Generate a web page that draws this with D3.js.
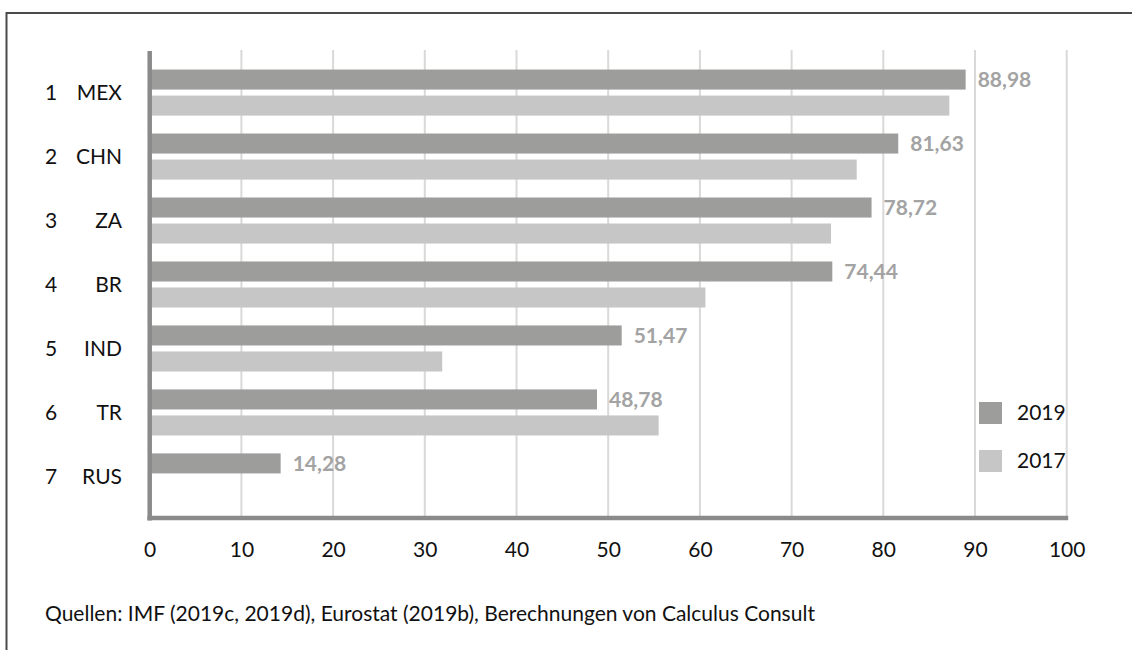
<!DOCTYPE html>
<html><head><meta charset="utf-8">
<script src="https://cdn.jsdelivr.net/npm/d3@7"></script>
<style>
body{margin:0;background:#fff;}
svg{display:block;}
text{font-family:Lato,"Noto Sans",sans-serif;}
</style></head>
<body>
<svg id="chart" width="1132" height="650"></svg>
<script>
const ranks = ["1","2","3","4","5","6","7"];
const categories = ["MEX","CHN","ZA","BR","IND","TR","RUS"];
const values2019 = [88.98, 81.63, 78.72, 74.44, 51.47, 48.78, 14.28];
const values2017 = [87.2, 77.1, 74.3, 60.6, 31.9, 55.5, null];
const seriesNames = ["2019","2017"];
const xTicks = [0,10,20,30,40,50,60,70,80,90,100];
const footer = "Quellen: IMF (2019c, 2019d), Eurostat (2019b), Berechnungen von Calculus Consult";

const colors = {"2019":"#9d9d9c","2017":"#c6c6c6"};
const svg = d3.select("#chart");
const fontSize = 21;

// frame (top + left lines)
svg.append("line").attr("x1",6).attr("x2",1132).attr("y1",13).attr("y2",13)
  .attr("stroke","#4a4a4a").attr("stroke-width",2);
svg.append("line").attr("x1",6.5).attr("x2",6.5).attr("y1",12).attr("y2",650)
  .attr("stroke","#4a4a4a").attr("stroke-width",2);

const plotTop = 51, plotBottom = 518, left = 149.7, right = 1066.7;
const x = d3.scaleLinear().domain([0,100]).range([left,right]);
const y = d3.scaleBand().domain(categories).range([plotTop,plotBottom])
  .paddingInner(0.28).paddingOuter(0.29);
const ySub = d3.scaleBand().domain(seriesNames).range([0,y.bandwidth()]).paddingInner(0.23);

// gridlines
svg.append("g").selectAll("line").data(xTicks.filter(d=>d>0)).join("line")
  .attr("x1",d=>x(d)).attr("x2",d=>x(d)).attr("y1",plotTop-1).attr("y2",plotBottom)
  .attr("stroke","#d9d9d9").attr("stroke-width",2);

// bars
const data = categories.map((c,i)=>({cat:c, rank:ranks[i], v:{"2019":values2019[i],"2017":values2017[i]}}));
const g = svg.append("g");
data.forEach(d=>{
  seriesNames.forEach(s=>{
    if(d.v[s]==null) return;
    g.append("rect").attr("x",x(0)).attr("y",y(d.cat)+ySub(s))
      .attr("width",x(d.v[s])-x(0)).attr("height",ySub.bandwidth())
      .attr("fill",colors[s]);
  });
  // data label for 2019
  g.append("text").attr("x",x(d.v["2019"])+12).attr("y",y(d.cat)+ySub("2019")+ySub.bandwidth()/2)
    .attr("dy","0.35em").attr("font-size",fontSize).attr("font-weight","bold").attr("fill","#a3a3a3")
    .text(d3.format(".2f")(d.v["2019"]).replace(".",","));
  // category labels
  svg.append("text").attr("x",45).attr("y",y(d.cat)+y.bandwidth()/2).attr("dy","0.35em")
    .attr("font-size",fontSize).attr("fill","#111").text(d.rank);
  svg.append("text").attr("x",122).attr("y",y(d.cat)+y.bandwidth()/2).attr("dy","0.35em")
    .attr("text-anchor","end").attr("font-size",fontSize).attr("fill","#111").text(d.cat);
});

// axes lines
svg.append("line").attr("x1",left).attr("x2",left).attr("y1",plotTop).attr("y2",plotBottom+2.5)
  .attr("stroke","#8a8a8a").attr("stroke-width",4.5);
svg.append("line").attr("x1",left-2.25).attr("x2",right+1.5).attr("y1",plotBottom).attr("y2",plotBottom)
  .attr("stroke","#8a8a8a").attr("stroke-width",4.5);

// x tick labels via axis
const xAxis = d3.axisBottom(x).tickValues(xTicks).tickSize(0).tickPadding(0).tickFormat(d=>d);
const ax = svg.append("g").attr("transform",`translate(0,${plotBottom+24})`).call(xAxis);
ax.select(".domain").remove();
ax.selectAll("text").attr("font-size",fontSize).attr("fill","#111").attr("font-family","Lato, 'Noto Sans', sans-serif")
  .attr("dy","0.71em");

// legend
const leg = svg.append("g");
seriesNames.forEach((s,i)=>{
  const ly = 402 + i*48;
  leg.append("rect").attr("x",979).attr("y",ly).attr("width",23).attr("height",22).attr("fill",colors[s]);
  leg.append("text").attr("x",1017).attr("y",ly+11).attr("dy","0.35em").attr("font-size",fontSize)
    .attr("fill","#111").text(s);
});

// footer
svg.append("text").attr("x",45).attr("y",621).attr("font-size",fontSize).attr("fill","#111").text(footer);
</script>
</body></html>
